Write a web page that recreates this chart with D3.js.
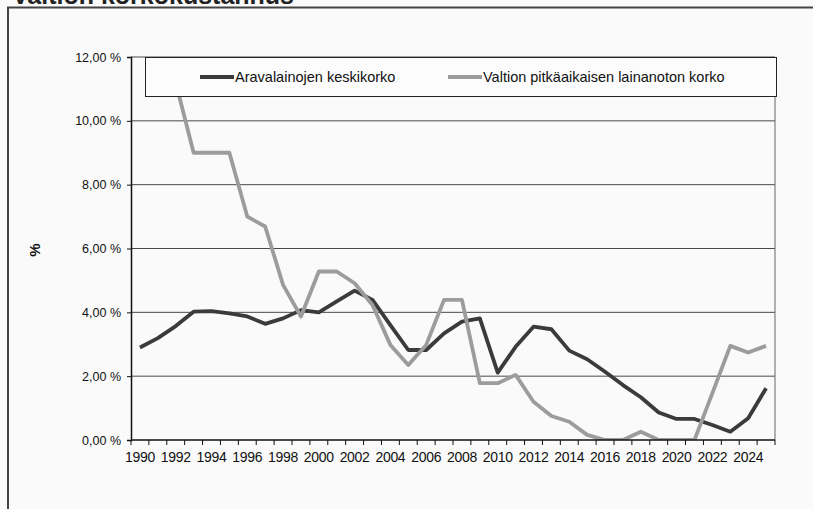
<!DOCTYPE html>
<html>
<head>
<meta charset="utf-8">
<script src="https://cdn.jsdelivr.net/npm/d3@7/dist/d3.min.js"></script>
<style>
  body { margin: 0; background: #fafafa; }
  svg { display: block; font-family: "Liberation Sans", Arial, sans-serif; }
  .grid line { stroke: #4a4a4a; stroke-width: 1; }
  .axis path, .axis line { stroke: #111; }
  .axis text { fill: #111; }
</style>
</head>
<body>
<svg width="813" height="509"></svg>
<script>
var years = d3.range(1990, 2026);

var aravaRate = [2.90, 3.19, 3.57, 4.02, 4.04, 3.97, 3.87, 3.64, 3.81, 4.07,
  4.00, 4.34, 4.68, 4.39, 3.60, 2.82, 2.82, 3.34, 3.71, 3.81,
  2.11, 2.92, 3.55, 3.47, 2.80, 2.53, 2.14, 1.72, 1.34, 0.86,
  0.66, 0.66, 0.47, 0.26, 0.68, 1.62];

var stateRate = [13.0, 12.3, 11.2, 9.00, 9.00, 9.00, 7.00, 6.69, 4.86, 3.87,
  5.28, 5.28, 4.91, 4.23, 2.98, 2.35, 2.98, 4.39, 4.39, 1.78,
  1.78, 2.04, 1.20, 0.75, 0.57, 0.16, 0.00, 0.00, 0.26, 0.00,
  0.00, 0.00, 1.47, 2.95, 2.74, 2.95];

var seriesNames = ["Aravalainojen keskikorko", "Valtion pitkäaikaisen lainanoton korko"];
var seriesColors = ["#3b3b3b", "#9c9c9c"];
var yTicks = [0, 2, 4, 6, 8, 10, 12];

var svg = d3.select("svg"),
  plotLeft = 131, plotRight = 775, plotTop = 57, plotBottom = 440;

// outer frame (only top and left edges visible)
svg.append("path")
  .attr("d", "M8,509V7.5H813")
  .attr("fill", "none")
  .attr("stroke", "#444")
  .attr("stroke-width", 2);

// title, mostly cut off at the top
svg.append("text")
  .attr("x", 12)
  .attr("y", 4)
  .style("font-size", "25px")
  .style("font-weight", "bold")
  .attr("fill", "#222")
  .text("Valtion korkokustannus");

var x = d3.scaleBand()
  .domain(years)
  .range([plotLeft, plotRight])
  .padding(0);

var y = d3.scaleLinear()
  .domain([0, 12])
  .range([plotBottom, plotTop]);

svg.append("defs").append("clipPath")
  .attr("id", "plot-clip")
  .append("rect")
  .attr("x", plotLeft)
  .attr("y", plotTop)
  .attr("width", plotRight - plotLeft)
  .attr("height", plotBottom - plotTop);

// gridlines
svg.append("g")
  .attr("class", "grid")
  .selectAll("line")
  .data(yTicks.slice(1))
  .enter().append("line")
  .attr("x1", plotLeft)
  .attr("x2", plotRight)
  .attr("y1", function(d) { return y(d); })
  .attr("y2", function(d) { return y(d); });

// right edge of plot area
svg.append("line")
  .attr("x1", plotRight).attr("x2", plotRight)
  .attr("y1", plotTop).attr("y2", plotBottom)
  .attr("stroke", "#666");

// lines
var line = d3.line()
  .x(function(d, i) { return x(years[i]) + x.bandwidth() / 2; })
  .y(function(d) { return y(d); });

var lines = svg.append("g").attr("clip-path", "url(#plot-clip)");
[aravaRate, stateRate].forEach(function(values, k) {
  lines.append("path")
    .datum(values)
    .attr("fill", "none")
    .attr("stroke", seriesColors[k])
    .attr("stroke-width", 3.8)
    .attr("stroke-linejoin", "round")
    .attr("d", line);
});

// y axis
var yAxis = svg.append("g")
  .attr("class", "axis")
  .attr("transform", "translate(" + plotLeft + ",0)")
  .call(d3.axisLeft(y)
    .tickValues(yTicks)
    .tickSize(4)
    .tickPadding(6)
    .tickFormat(function(d) { return d.toFixed(2).replace(".", ",") + " %"; }));
yAxis.select(".domain").attr("stroke-width", 1.5);
yAxis.selectAll("text").style("font-size", "12.5px");

// x axis: ticks at category boundaries, labels every second year
var xAxis = svg.append("g")
  .attr("class", "axis")
  .attr("transform", "translate(0," + plotBottom + ")");
xAxis.append("line")
  .attr("x1", plotLeft).attr("x2", plotRight)
  .attr("stroke", "#111")
  .attr("stroke-width", 1.5);
xAxis.selectAll(".tk")
  .data(years.concat([null]))
  .enter().append("line")
  .attr("class", "tk")
  .attr("x1", function(d) { return d === null ? plotRight : x(d); })
  .attr("x2", function(d) { return d === null ? plotRight : x(d); })
  .attr("y1", 0)
  .attr("y2", 5);
xAxis.selectAll(".lbl")
  .data(years.filter(function(d) { return d % 2 === 0; }))
  .enter().append("text")
  .attr("class", "lbl")
  .attr("x", function(d) { return x(d) + x.bandwidth() / 2; })
  .attr("y", 22)
  .attr("text-anchor", "middle")
  .style("font-size", "14px")
  .style("letter-spacing", "-0.3px")
  .text(function(d) { return d; });

// y axis title
svg.append("text")
  .attr("transform", "translate(40,250) rotate(-90)")
  .attr("text-anchor", "middle")
  .style("font-size", "15px")
  .style("font-weight", "bold")
  .attr("fill", "#111")
  .text("%");

// legend
var legend = svg.append("g");
legend.append("rect")
  .attr("x", 145.5)
  .attr("y", 57.5)
  .attr("width", 631)
  .attr("height", 39)
  .attr("fill", "#fcfcfc")
  .attr("stroke", "#222");

var legendX = [200, 448];
seriesNames.forEach(function(name, k) {
  legend.append("line")
    .attr("x1", legendX[k])
    .attr("x2", legendX[k] + 34)
    .attr("y1", 77)
    .attr("y2", 77)
    .attr("stroke", seriesColors[k])
    .attr("stroke-width", 3.8);
  legend.append("text")
    .attr("x", legendX[k] + 35)
    .attr("y", 82)
    .style("font-size", "14.5px")
    .attr("fill", "#111")
    .text(name);
});
</script>
</body>
</html>
